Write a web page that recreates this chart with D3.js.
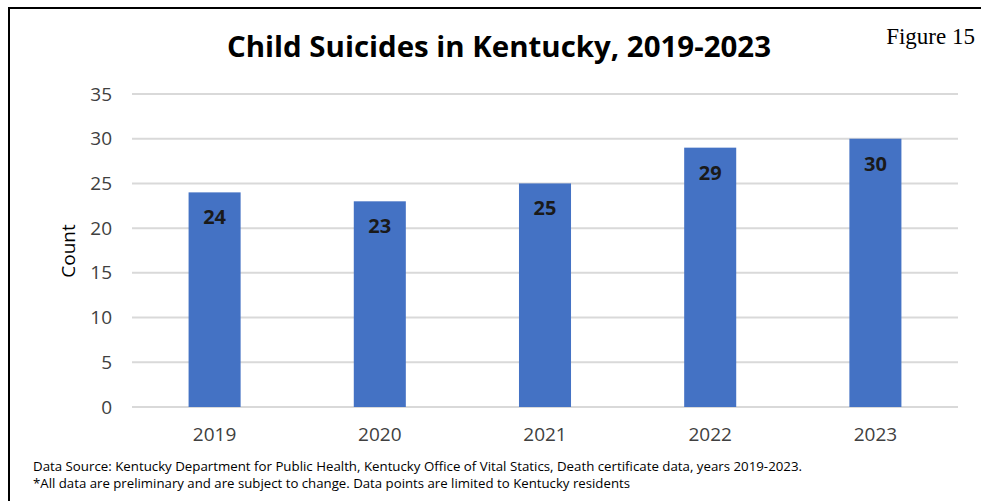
<!DOCTYPE html>
<html>
<head>
<meta charset="utf-8">
<script src="https://cdn.jsdelivr.net/npm/d3@7"></script>
<style>
  body { margin: 0; background: #fff; }
  svg { display: block; }
</style>
</head>
<body>
<svg id="chart" width="981" height="501"></svg>
<script>
const years = ["2019", "2020", "2021", "2022", "2023"];
const counts = [24, 23, 25, 29, 30];
const yTicks = [0, 5, 10, 15, 20, 25, 30, 35];

const width = 981;
const height = 501;
const margins = [94, 23, 94, 132]; // top, right, bottom, left
const [mt, mr, mb, ml] = margins;
const barColor = "#4472c4";
const font = "'Open Sans', 'DejaVu Sans', sans-serif";

const svg = d3.select("#chart");

// outer frame (top and left edges visible)
svg.append("path")
  .attr("d", `M9,${height} L9,8 L${width},8`)
  .attr("fill", "none")
  .attr("stroke", "#000")
  .attr("stroke-width", 2);

const x = d3.scaleBand()
  .domain(years)
  .range([ml, width - mr])
  .paddingInner(0.685)
  .paddingOuter(0.3425);

const y = d3.scaleLinear()
  .domain([0, 35])
  .range([height - mb, mt]);

// gridlines
svg.append("g")
  .selectAll("line")
  .data(yTicks)
  .enter()
  .append("line")
  .attr("x1", ml)
  .attr("x2", width - mr)
  .attr("y1", (d) => y(d))
  .attr("y2", (d) => y(d))
  .attr("stroke", "#d9d9d9")
  .attr("stroke-width", 2);

// y axis labels
const yAxis = svg.append("g")
  .attr("transform", `translate(${ml - 20},0)`)
  .call(d3.axisLeft(y).tickValues(yTicks).tickSize(0).tickPadding(0));
yAxis.select(".domain").remove();
yAxis.selectAll("text")
  .attr("font-family", font)
  .attr("font-size", "19px")
  .attr("fill", "#404040");

// x axis labels
const xAxis = svg.append("g")
  .attr("transform", `translate(0,${height - mb})`)
  .call(d3.axisBottom(x).tickSize(0).tickPadding(21));
xAxis.select(".domain").remove();
xAxis.selectAll("text")
  .attr("font-family", font)
  .attr("font-size", "19px")
  .attr("fill", "#404040");

// bars
svg.selectAll(".bar")
  .data(years)
  .enter()
  .append("rect")
  .attr("class", "bar")
  .attr("x", (d) => x(d))
  .attr("width", x.bandwidth())
  .attr("y", (d, i) => y(counts[i]))
  .attr("height", (d, i) => y(0) - y(counts[i]))
  .attr("fill", barColor);

// value labels
svg.selectAll(".val")
  .data(years)
  .enter()
  .append("text")
  .attr("class", "val")
  .attr("x", (d) => x(d) + x.bandwidth() / 2)
  .attr("y", (d, i) => y(counts[i]) + 32)
  .attr("text-anchor", "middle")
  .attr("font-family", font)
  .attr("font-weight", "bold")
  .attr("font-size", "20px")
  .attr("fill", "#1a1a1a")
  .text((d, i) => counts[i]);

// title
svg.append("text")
  .attr("x", 499)
  .attr("y", 57)
  .attr("text-anchor", "middle")
  .attr("font-family", font)
  .attr("font-weight", "bold")
  .attr("font-size", "28px")
  .attr("textLength", 544)
  .attr("lengthAdjust", "spacingAndGlyphs")
  .attr("fill", "#000")
  .text("Child Suicides in Kentucky, 2019-2023");

svg.append("text")
  .attr("x", 975)
  .attr("y", 44)
  .attr("text-anchor", "end")
  .attr("font-family", "'Liberation Serif', 'Times New Roman', serif")
  .attr("font-size", "23px")
  .attr("fill", "#000")
  .text("Figure 15");

// y axis title
svg.append("text")
  .attr("transform", "translate(75,251) rotate(-90)")
  .attr("text-anchor", "middle")
  .attr("font-family", font)
  .attr("font-size", "19px")
  .attr("fill", "#000")
  .text("Count");

// footnotes
svg.append("text")
  .attr("x", 33)
  .attr("y", 471)
  .attr("font-family", font)
  .attr("font-size", "12.5px")
  .attr("textLength", 769)
  .attr("lengthAdjust", "spacingAndGlyphs")
  .attr("fill", "#000")
  .text("Data Source: Kentucky Department for Public Health, Kentucky Office of Vital Statics, Death certificate data, years 2019-2023.");

svg.append("text")
  .attr("x", 33)
  .attr("y", 488)
  .attr("font-family", font)
  .attr("font-size", "12.5px")
  .attr("textLength", 597)
  .attr("lengthAdjust", "spacingAndGlyphs")
  .attr("fill", "#000")
  .text("*All data are preliminary and are subject to change. Data points are limited to Kentucky residents");
</script>
</body>
</html>
